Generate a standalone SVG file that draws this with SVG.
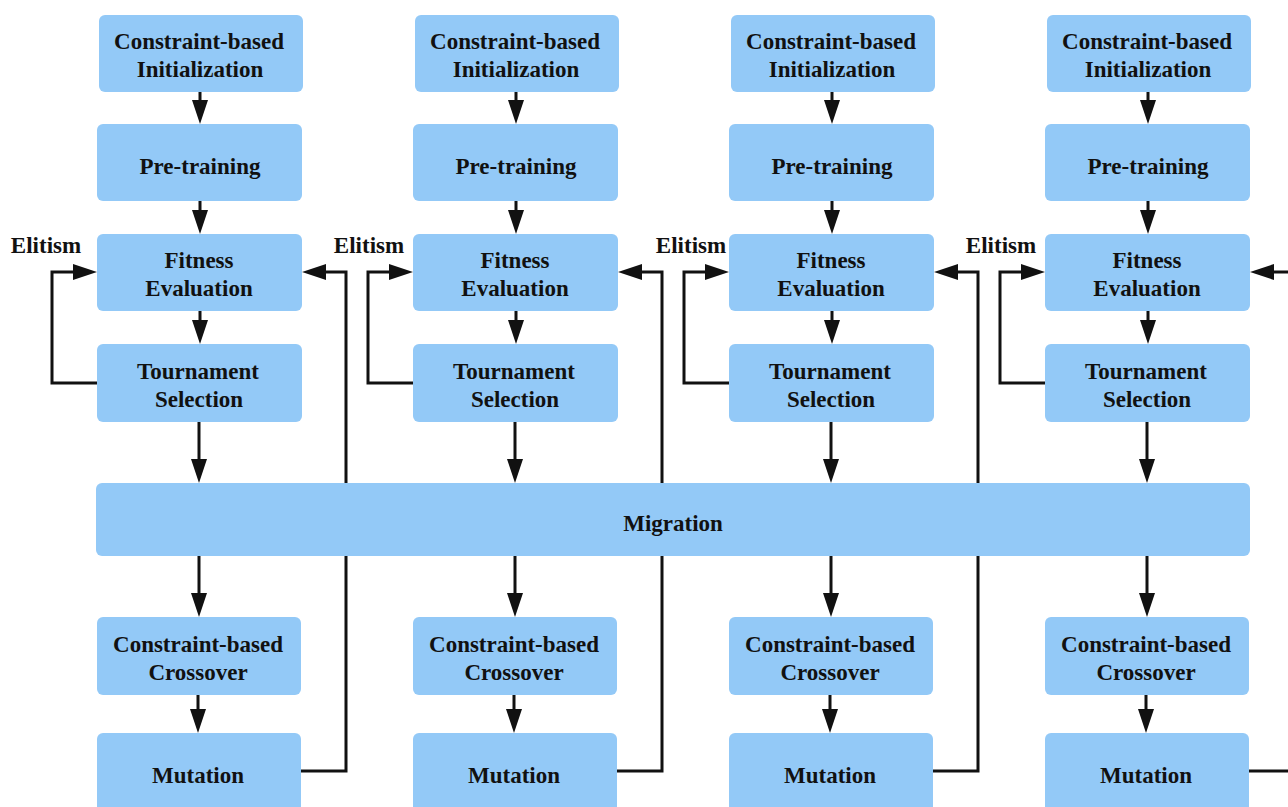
<svg xmlns="http://www.w3.org/2000/svg" width="1288" height="807" viewBox="0 0 1288 807">
<style>
.box{fill:#93C9F7;}
.t{font-family:"Liberation Serif","Times New Roman",serif;font-weight:bold;font-size:23px;fill:#111;text-anchor:middle;}
.c{fill:none;stroke:#111;stroke-width:3;}
</style>
<defs>
<marker id="ah" markerUnits="userSpaceOnUse" markerWidth="24" markerHeight="16" refX="4" refY="8" orient="auto" viewBox="0 0 24 16">
<path d="M0,0 L24,8 L0,16 z" fill="#111"/>
</marker>
</defs>
<rect width="1288" height="807" fill="#fff"/>
<g id="connectors">
<!-- column 1 -->
<line class="c" x1="200" y1="92" x2="200" y2="104" marker-end="url(#ah)"/>
<line class="c" x1="200" y1="201" x2="200" y2="214" marker-end="url(#ah)"/>
<line class="c" x1="200" y1="311" x2="200" y2="324" marker-end="url(#ah)"/>
<line class="c" x1="199" y1="422" x2="199" y2="463" marker-end="url(#ah)"/>
<line class="c" x1="199" y1="556" x2="199" y2="597" marker-end="url(#ah)"/>
<line class="c" x1="198" y1="695" x2="198" y2="713" marker-end="url(#ah)"/>
<path class="c" d="M97,383 H52 V272 H77" marker-end="url(#ah)"/>
<path class="c" d="M301,771 H346 V272 H322" marker-end="url(#ah)"/>
<!-- column 2 -->
<line class="c" x1="516" y1="92" x2="516" y2="104" marker-end="url(#ah)"/>
<line class="c" x1="516" y1="201" x2="516" y2="214" marker-end="url(#ah)"/>
<line class="c" x1="516" y1="311" x2="516" y2="324" marker-end="url(#ah)"/>
<line class="c" x1="515" y1="422" x2="515" y2="463" marker-end="url(#ah)"/>
<line class="c" x1="515" y1="556" x2="515" y2="597" marker-end="url(#ah)"/>
<line class="c" x1="514" y1="695" x2="514" y2="713" marker-end="url(#ah)"/>
<path class="c" d="M413,383 H368 V272 H393" marker-end="url(#ah)"/>
<path class="c" d="M617,771 H662 V272 H638" marker-end="url(#ah)"/>
<!-- column 3 -->
<line class="c" x1="832" y1="92" x2="832" y2="104" marker-end="url(#ah)"/>
<line class="c" x1="832" y1="201" x2="832" y2="214" marker-end="url(#ah)"/>
<line class="c" x1="832" y1="311" x2="832" y2="324" marker-end="url(#ah)"/>
<line class="c" x1="831" y1="422" x2="831" y2="463" marker-end="url(#ah)"/>
<line class="c" x1="831" y1="556" x2="831" y2="597" marker-end="url(#ah)"/>
<line class="c" x1="830" y1="695" x2="830" y2="713" marker-end="url(#ah)"/>
<path class="c" d="M729,383 H684 V272 H709" marker-end="url(#ah)"/>
<path class="c" d="M933,771 H978 V272 H954" marker-end="url(#ah)"/>
<!-- column 4 -->
<line class="c" x1="1148" y1="92" x2="1148" y2="104" marker-end="url(#ah)"/>
<line class="c" x1="1148" y1="201" x2="1148" y2="214" marker-end="url(#ah)"/>
<line class="c" x1="1148" y1="311" x2="1148" y2="324" marker-end="url(#ah)"/>
<line class="c" x1="1147" y1="422" x2="1147" y2="463" marker-end="url(#ah)"/>
<line class="c" x1="1147" y1="556" x2="1147" y2="597" marker-end="url(#ah)"/>
<line class="c" x1="1146" y1="695" x2="1146" y2="713" marker-end="url(#ah)"/>
<path class="c" d="M1045,383 H1000 V272 H1025" marker-end="url(#ah)"/>
<path class="c" d="M1249,771 H1294 V272 H1270" marker-end="url(#ah)"/>
</g>
<g id="labels">
<text class="t" x="46" y="253">Elitism</text>
<text class="t" x="369" y="253">Elitism</text>
<text class="t" x="691" y="253">Elitism</text>
<text class="t" x="1001" y="253">Elitism</text>
</g>
<g id="migration"><rect class="box" x="96" y="483" width="1154" height="73" rx="6"/><text class="t" x="673" y="531">Migration</text></g>
<g id="init1"><rect class="box" x="99" y="15" width="204" height="77" rx="6"/><text class="t" x="199" y="49">Constraint-based</text><text class="t" x="200" y="77">Initialization</text></g>
<g id="pre1"><rect class="box" x="97" y="124" width="205" height="77" rx="6"/><text class="t" x="200" y="174">Pre-training</text></g>
<g id="fit1"><rect class="box" x="97" y="234" width="205" height="77" rx="6"/><text class="t" x="199" y="268">Fitness</text><text class="t" x="199" y="296">Evaluation</text></g>
<g id="tour1"><rect class="box" x="97" y="344" width="205" height="78" rx="6"/><text class="t" x="198" y="379">Tournament</text><text class="t" x="199" y="407">Selection</text></g>
<g id="cross1"><rect class="box" x="97" y="617" width="204" height="78" rx="6"/><text class="t" x="198" y="652">Constraint-based</text><text class="t" x="198" y="680">Crossover</text></g>
<g id="mut1"><rect class="box" x="97" y="733" width="204" height="80" rx="6"/><text class="t" x="198" y="783">Mutation</text></g>
<g id="init2"><rect class="box" x="415" y="15" width="204" height="77" rx="6"/><text class="t" x="515" y="49">Constraint-based</text><text class="t" x="516" y="77">Initialization</text></g>
<g id="pre2"><rect class="box" x="413" y="124" width="205" height="77" rx="6"/><text class="t" x="516" y="174">Pre-training</text></g>
<g id="fit2"><rect class="box" x="413" y="234" width="205" height="77" rx="6"/><text class="t" x="515" y="268">Fitness</text><text class="t" x="515" y="296">Evaluation</text></g>
<g id="tour2"><rect class="box" x="413" y="344" width="205" height="78" rx="6"/><text class="t" x="514" y="379">Tournament</text><text class="t" x="515" y="407">Selection</text></g>
<g id="cross2"><rect class="box" x="413" y="617" width="204" height="78" rx="6"/><text class="t" x="514" y="652">Constraint-based</text><text class="t" x="514" y="680">Crossover</text></g>
<g id="mut2"><rect class="box" x="413" y="733" width="204" height="80" rx="6"/><text class="t" x="514" y="783">Mutation</text></g>
<g id="init3"><rect class="box" x="731" y="15" width="204" height="77" rx="6"/><text class="t" x="831" y="49">Constraint-based</text><text class="t" x="832" y="77">Initialization</text></g>
<g id="pre3"><rect class="box" x="729" y="124" width="205" height="77" rx="6"/><text class="t" x="832" y="174">Pre-training</text></g>
<g id="fit3"><rect class="box" x="729" y="234" width="205" height="77" rx="6"/><text class="t" x="831" y="268">Fitness</text><text class="t" x="831" y="296">Evaluation</text></g>
<g id="tour3"><rect class="box" x="729" y="344" width="205" height="78" rx="6"/><text class="t" x="830" y="379">Tournament</text><text class="t" x="831" y="407">Selection</text></g>
<g id="cross3"><rect class="box" x="729" y="617" width="204" height="78" rx="6"/><text class="t" x="830" y="652">Constraint-based</text><text class="t" x="830" y="680">Crossover</text></g>
<g id="mut3"><rect class="box" x="729" y="733" width="204" height="80" rx="6"/><text class="t" x="830" y="783">Mutation</text></g>
<g id="init4"><rect class="box" x="1047" y="15" width="204" height="77" rx="6"/><text class="t" x="1147" y="49">Constraint-based</text><text class="t" x="1148" y="77">Initialization</text></g>
<g id="pre4"><rect class="box" x="1045" y="124" width="205" height="77" rx="6"/><text class="t" x="1148" y="174">Pre-training</text></g>
<g id="fit4"><rect class="box" x="1045" y="234" width="205" height="77" rx="6"/><text class="t" x="1147" y="268">Fitness</text><text class="t" x="1147" y="296">Evaluation</text></g>
<g id="tour4"><rect class="box" x="1045" y="344" width="205" height="78" rx="6"/><text class="t" x="1146" y="379">Tournament</text><text class="t" x="1147" y="407">Selection</text></g>
<g id="cross4"><rect class="box" x="1045" y="617" width="204" height="78" rx="6"/><text class="t" x="1146" y="652">Constraint-based</text><text class="t" x="1146" y="680">Crossover</text></g>
<g id="mut4"><rect class="box" x="1045" y="733" width="204" height="80" rx="6"/><text class="t" x="1146" y="783">Mutation</text></g>
</svg>
